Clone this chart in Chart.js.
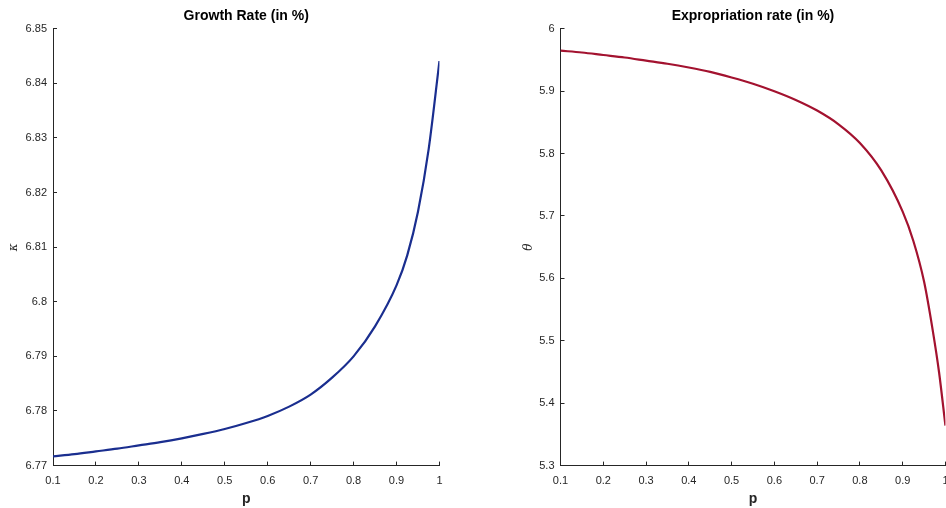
<!DOCTYPE html>
<html>
<head>
<meta charset="utf-8">
<script src="https://cdn.jsdelivr.net/npm/chart.js@4/dist/chart.umd.min.js"></script>
<style>
  html, body { margin:0; padding:0; background:#fff; overflow:hidden; width:946px; height:508px; }
  .box { position:absolute; top:0; height:508px; }
  #leftBox  { left:0;   width:455px; }
  #rightBox { left:510px; width:451px; }
</style>
</head>
<body>
<div class="box" id="leftBox"><canvas id="growthChart" width="455" height="508"></canvas></div>
<div class="box" id="rightBox"><canvas id="exproChart" width="451" height="508"></canvas></div>
<script>
// valores
const pGrowth     = [0.1, 0.15, 0.2, 0.25, 0.3, 0.35, 0.4, 0.45, 0.5, 0.55, 0.6, 0.65, 0.7, 0.75, 0.8, 0.85, 0.9, 0.925, 0.95, 0.975, 1.0];
const kappaValues = [6.7717, 6.7721, 6.7726, 6.7731, 6.7737, 6.7743, 6.7750, 6.7758, 6.7767, 6.7778, 6.7791,
                     6.7808, 6.7830, 6.7861, 6.7900, 6.7955, 6.8030, 6.8085, 6.8165, 6.8280, 6.8441];

const pExpro      = [0.1, 0.15, 0.2, 0.25, 0.3, 0.35, 0.4, 0.45, 0.5, 0.55, 0.6, 0.65, 0.7, 0.75, 0.8, 0.85, 0.9, 0.925, 0.95, 0.97, 0.985, 1.0];
const thetaValues = [5.965, 5.962, 5.958, 5.954, 5.949, 5.944, 5.938, 5.931, 5.922, 5.912, 5.900,
                     5.886, 5.869, 5.847, 5.817, 5.773, 5.707, 5.660, 5.595, 5.518, 5.450, 5.364];

const pTicks     = [0.1, 0.2, 0.3, 0.4, 0.5, 0.6, 0.7, 0.8, 0.9, 1];
const kappaTicks = [6.77, 6.78, 6.79, 6.8, 6.81, 6.82, 6.83, 6.84, 6.85];
const thetaTicks = [5.3, 5.4, 5.5, 5.6, 5.7, 5.8, 5.9, 6];

const AXIS = '#262626';
const SANS = '"Liberation Sans", Arial, sans-serif';

// obs: a borda direita da área do gráfico = largura do canvas - (meio rótulo "1" + ticks.padding)
function makeChart(id, { title, xs, ys, color, yTicks, yLabel, yWidth, yTitlePad, yMin, yMax }){
  const ctx = document.getElementById(id);
  return new Chart(ctx, {
    type: 'line',
    data: {
      datasets: [{
        data: xs.map((x,i)=>({ x, y: ys[i] })),
        borderColor: color,
        borderWidth: 2.2,
        pointRadius: 0,
        cubicInterpolationMode: 'monotone',
        fill: false
      }]
    },
    options: {
      responsive: false,
      animation: false,
      layout: { padding: 0 },
      plugins: {
        legend: { display:false },
        tooltip: { enabled:false },
        title: {
          display: true, text: title, color: '#000', fullSize: false,
          font: { family: SANS, size: 14, weight: 'bold', lineHeight: 1.2 },
          padding: { top: 8, bottom: 4 }
        }
      },
      scales: {
        x: {
          type: 'linear', min: 0.1, max: 1,
          afterBuildTicks: s => { s.ticks = pTicks.map(v=>({ value:v })); },
          afterFit: s => { s.height = 42.4; },
          grid: { drawOnChartArea:false, drawTicks:true, tickLength:-4, color:AXIS, lineWidth:1 },
          border: { display:true, color:AXIS, width:1 },
          ticks: {
            color: AXIS, padding: 12.5, maxRotation: 0, autoSkip: false,
            font: { family: SANS, size: 11 },
            callback: v => String(Number(Number(v).toFixed(1)))
          },
          title: {
            display: true, text: 'p', color: AXIS,
            font: { family: SANS, size: 14, weight: 'bold', lineHeight: 1.2 },
            padding: { top: 0, bottom: 0 }
          }
        },
        y: {
          type: 'linear', min: yMin, max: yMax,
          afterBuildTicks: s => { s.ticks = yTicks.map(v=>({ value:v })); },
          afterFit: s => { s.width = yWidth; },
          grid: { drawOnChartArea:false, drawTicks:true, tickLength:-4, color:AXIS, lineWidth:1 },
          border: { display:true, color:AXIS, width:1 },
          ticks: {
            color: AXIS, padding: 10, autoSkip: false,
            font: { family: SANS, size: 11 },
            callback: v => String(Number(Number(v).toFixed(2)))
          },
          title: {
            display: true, text: yLabel, color: AXIS,
            font: { family: '"DejaVu Serif", "Liberation Serif", serif', size: 12, style: 'italic', lineHeight: 1.2 },
            padding: { top: yTitlePad, bottom: 0 }
          }
        }
      }
    }
  });
}

makeChart('growthChart', {
  title: 'Growth Rate (in %)', xs: pGrowth, ys: kappaValues, color: '#1a2e8f',
  yTicks: kappaTicks, yLabel: 'κ', yWidth: 53, yTitlePad: 7, yMin: 6.77, yMax: 6.85
});
makeChart('exproChart', {
  title: 'Expropriation rate (in %)', xs: pExpro, ys: thetaValues, color: '#a3122f',
  yTicks: thetaTicks, yLabel: 'θ', yWidth: 50.5, yTitlePad: 12, yMin: 5.3, yMax: 6
});
</script>
</body>
</html>
